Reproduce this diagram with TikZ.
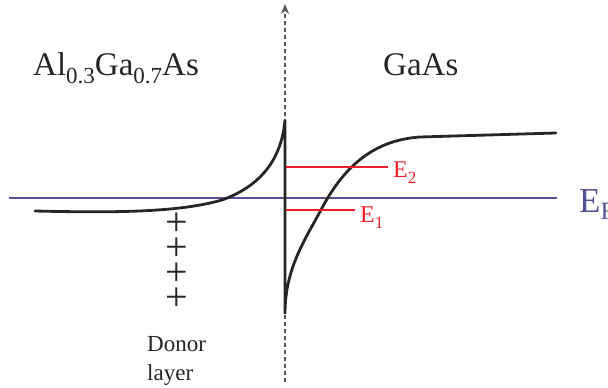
\documentclass[tikz,border=0pt]{standalone}
\usepackage{fontspec}
\setmainfont{Liberation Serif}
\usetikzlibrary{arrows.meta}
\definecolor{bandcol}{RGB}{38,38,38}
\definecolor{fermicol}{RGB}{82,82,148}
\definecolor{levelcol}{RGB}{236,30,40}
\definecolor{axiscol}{RGB}{85,85,85}
\newcommand\mysub[3]{\raisebox{#2}{\fontsize{#1}{#1}\selectfont #3}}
\tikzset{
  band/.style={draw=bandcol, line width=2.8pt, line cap=round},
  level/.style={draw=levelcol, line width=2.6pt},
  fermi/.style={draw=fermicol, line width=2.2pt},
  axisline/.style={draw=axiscol, line width=1.4pt, dash pattern=on 4.5pt off 2.5pt, -{Stealth[length=10pt,width=8pt]}},
  lbl/.style={inner sep=0pt, anchor=base west},
  plussign/.style={inner sep=0pt, anchor=center, text=bandcol, font=\fontsize{40}{40}\selectfont},
}
\begin{document}
\begin{tikzpicture}[x=1pt,y=-1pt]
\useasboundingbox (0,0) rectangle (608,388);
% axis
\coordinate (axbot) at (285,382);
\coordinate (axtop) at (285,4);
\draw[axisline] (axbot) -- (axtop);
% Fermi level
\coordinate (efL) at (9,198);
\coordinate (efR) at (557,198);
\draw[fermi] (efL) -- (efR);
\node[lbl, text=fermicol, font=\fontsize{35}{35}\selectfont] (ef) at (579,212) {E\mysub{25pt}{-7pt}{F}};
% band edge
\coordinate (l0) at (35,211);
\coordinate (l1) at (222,200);
\coordinate (peak) at (285,120);
\coordinate (bottom) at (285,314);
\coordinate (r1) at (322,208);
\coordinate (r2) at (420,137);
\coordinate (r3) at (556,133);
\draw[band] (l0) .. controls (120,213) and (180,212) .. (l1)
  .. controls (255,188) and (281,165) .. (peak) -- (bottom)
  .. controls (285,268) and (305,240) .. (r1)
  .. controls (345,165) and (375,140) .. (r2) -- (r3);
% subband levels
\coordinate (e2s) at (286,167);
\coordinate (e2e) at (388,167);
\coordinate (e1s) at (286,210);
\coordinate (e1e) at (355,210);
\draw[level] (e2s) -- (e2e);
\draw[level] (e1s) -- (e1e);
\node[lbl, text=levelcol, font=\fontsize{24}{24}\selectfont] (E2) at (393,177) {E\mysub{17pt}{-6pt}{2}};
\node[lbl, text=levelcol, font=\fontsize{24}{24}\selectfont] (E1) at (360,222) {E\mysub{17pt}{-6pt}{1}};
% material labels
\node[lbl, text=bandcol, font=\fontsize{33}{33}\selectfont] (algaas) at (33,75) {Al\mysub{23pt}{-8pt}{0.3}Ga\mysub{23pt}{-8pt}{0.7}As};
\node[lbl, text=bandcol, font=\fontsize{33}{33}\selectfont] (gaas) at (383,75) {GaAs};
% donors
\node[plussign] (p1) at (176.5,224) {+};
\node[plussign] (p2) at (176.5,249) {+};
\node[plussign] (p3) at (176.5,274) {+};
\node[plussign] (p4) at (176.5,299) {+};
\node[lbl, text=bandcol, font=\fontsize{23}{23}\selectfont] (donor) at (147,351) {Donor};
\node[lbl, text=bandcol, font=\fontsize{23}{23}\selectfont] (layer) at (147,380) {layer};
\end{tikzpicture}
\end{document}
